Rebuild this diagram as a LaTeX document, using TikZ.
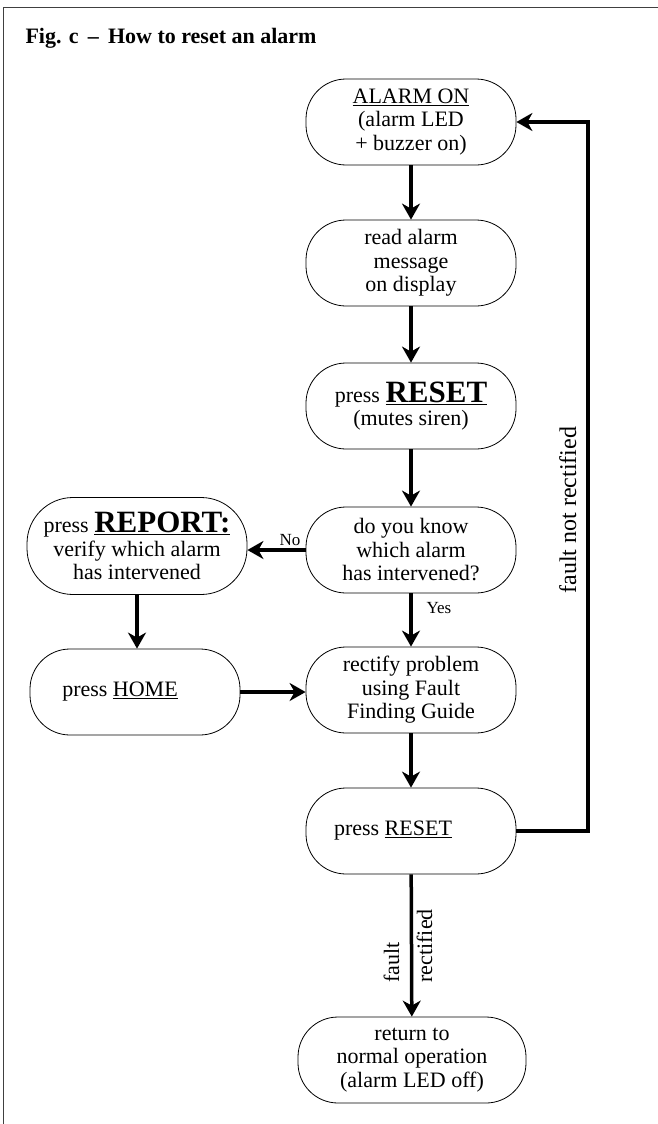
\documentclass[tikz,border=0pt]{standalone}
\usepackage{fontspec}
\setmainfont{Liberation Serif}
\usetikzlibrary{arrows.meta}

\begin{document}
\begin{tikzpicture}[x=1pt,y=-1pt,
        stadium/.style={draw, line width=0.8pt, rounded corners=40pt, minimum width=210pt,
            minimum height=86pt, inner sep=0pt, align=center, font=\fontsize{22}{23.5}\selectfont},
        flow/.style={line width=3.5pt, -{Stealth[length=16pt,width=18pt,inset=5pt]}},
        tag/.style={font=\fontsize{17}{20}\selectfont},
        side/.style={font=\fontsize{22}{24}\selectfont, rotate=90, anchor=base west}]
        \useasboundingbox (0,0) rectangle (658,1124);

        % Frame and title
        \draw[line width=1pt, black!75] (3,1124) -- (3,8) -- (658,8);
        \node[anchor=base west, font=\fontsize{22}{26}\selectfont\bfseries] (title) at (22,44)
            {Fig. c \,--\, How to reset an alarm};

        % Steps
        \node[stadium] (alarm) at (411,122) {\underline{ALARM ON}\\(alarm LED\\+ buzzer on)};
        \node[stadium] (read) at (411,263) {read alarm\\message\\on display};
        \node[stadium] (mute) at (411,406)
            {press {\fontsize{31}{31}\selectfont\bfseries\underline{RESET}}\\(mutes siren)};
        \node[stadium] (ask) at (411,550) {do you know\\which alarm\\has intervened?};
        \node[stadium, minimum width=220pt, minimum height=97pt, rounded corners=46pt] (report) at (137,546)
            {press {\fontsize{31}{31}\selectfont\bfseries\underline{REPORT:}}\\verify which alarm\\has intervened};
        \node[stadium] (home) at (135,692) {press \underline{HOME}\hspace*{30pt}};
        \node[stadium] (fix) at (411,690) {rectify problem\\using Fault\\Finding Guide};
        \node[stadium] (reset) at (411,831) {press \underline{RESET}\hspace*{36pt}};
        \node[stadium, minimum width=228pt] (normal) at (412,1060) {return to\\normal operation\\(alarm LED off)};

        % Connectors
        \draw[flow] (alarm) -- (read);
        \draw[flow] (read) -- (mute);
        \draw[flow] (mute) -- (ask);
        \draw[flow] (ask.west) -- (ask.west -| report.east);
        \draw[flow] (ask) -- (fix);
        \draw[flow] (report.south) -- (report.south |- home.north);
        \draw[flow] (home.east) -- (home.east -| fix.west);
        \draw[flow] (fix) -- (reset);
        \draw[flow] (reset) -- (normal);

        % Loop back when the fault is still there
        \coordinate (back) at (588,0);
        \draw[flow] (reset.east) -- (reset.east -| back) -- (back |- alarm.east) -- (alarm.east);

        % Labels
        \node[tag] (no) at (290,540) {No};
        \node[tag, anchor=west] (yes) at (423,608) {Yes};
        \node[side, font=\fontsize{24}{26}\selectfont] (notfixed) at (576,597) {fault not rectified};
        \node[side] (fault) at (399,986) {fault};
        \node[side] (fixed) at (432,986) {rectified};
    \end{tikzpicture}
\end{document}
